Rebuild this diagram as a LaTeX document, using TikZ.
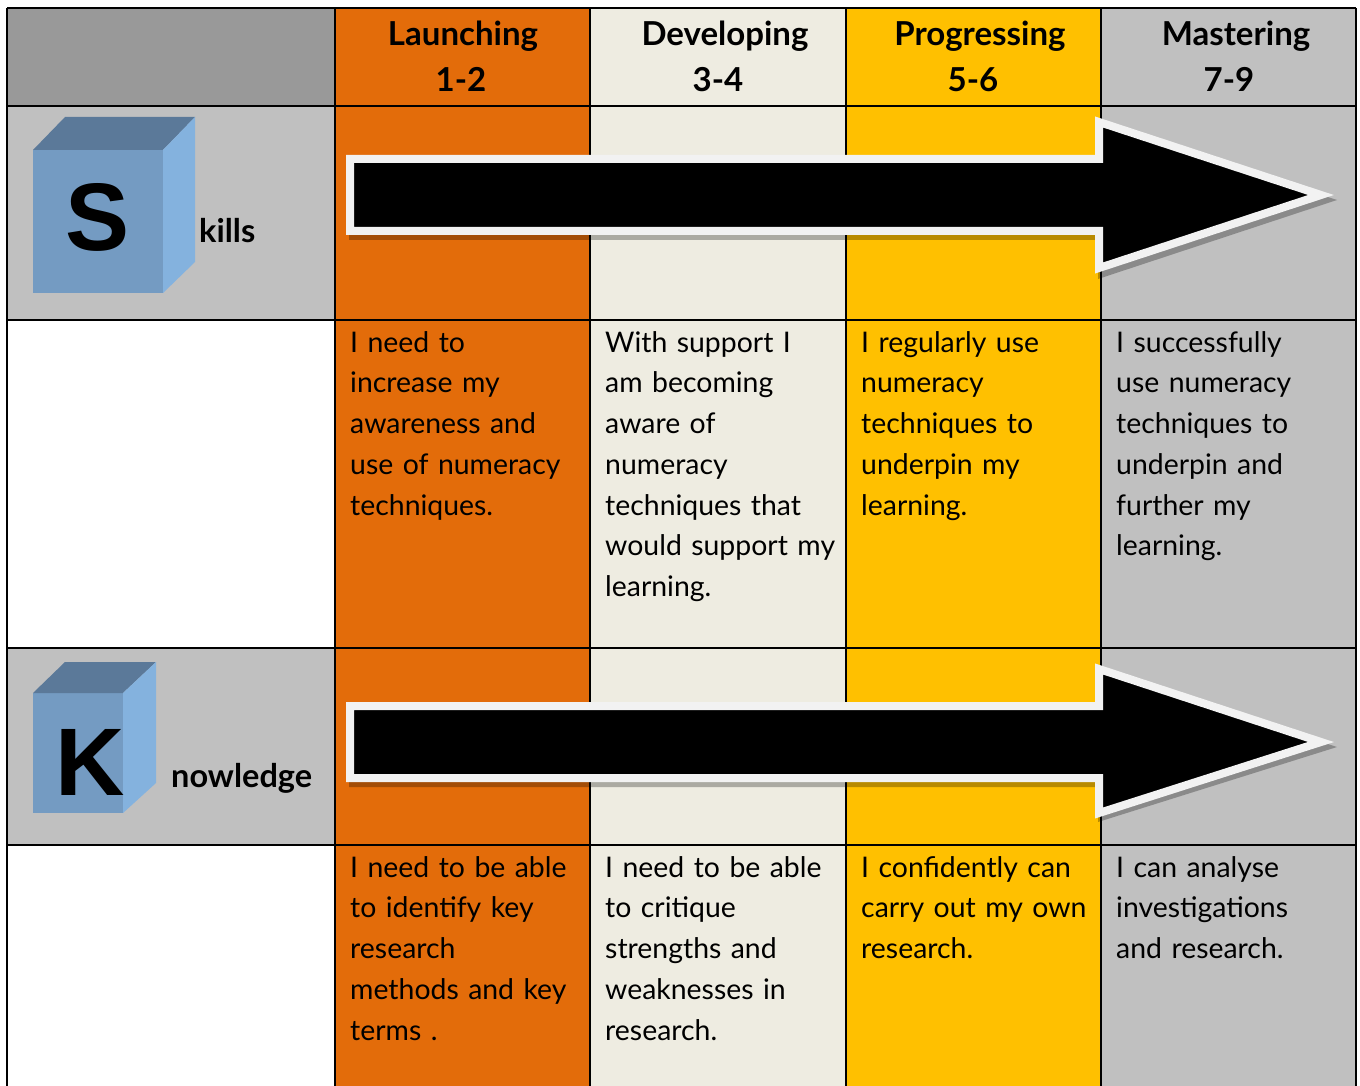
\documentclass[tikz,border=0pt]{standalone}
\usepackage{fontspec}
\setmainfont{Lato}
\newfontfamily\cubefont{Liberation Sans}
\definecolor{hdrgray}{HTML}{999999}
\definecolor{rowgray}{HTML}{C0C0C0}
\definecolor{colorange}{HTML}{E36C0A}
\definecolor{colbeige}{HTML}{EEECE1}
\definecolor{colyellow}{HTML}{FFC000}
\definecolor{colgray}{HTML}{C0C0C0}
\definecolor{arrowwhite}{HTML}{F2F2F2}
\definecolor{cubefront}{HTML}{749BC2}
\definecolor{cubetop}{HTML}{5B7999}
\definecolor{cubeside}{HTML}{84B2DE}
\tikzset{
  gridline/.style={line width=2.6pt, black},
  arrowshape/.style={fill=black, draw=arrowwhite, line width=8pt, line join=miter},
  shadowshape/.style={fill=black, fill opacity=0.28},
  bodytext/.style={anchor=base west, inner sep=0pt, text width=248pt, align=left, font=\fontsize{28.4}{40.75}\selectfont},
  hdrtext/.style={anchor=base, inner sep=0pt, font=\fontsize{33}{40}\selectfont\bfseries},
  labeltext/.style={anchor=base west, inner sep=0pt, font=\fontsize{32.5}{40}\selectfont\bfseries},
  cubeletter/.style={anchor=base, inner sep=0pt, font=\cubefont\bfseries\fontsize{96}{100}\selectfont},
}
\begin{document}
\begin{tikzpicture}[x=1pt,y=-1pt]
\useasboundingbox (0,0) rectangle (1360,1086);
\fill[white] (0,0) rectangle (1360,1086);
% left column fills
\fill[hdrgray] (7,8) rectangle (335,106);
\fill[rowgray] (7,106) rectangle (335,320);
\fill[white] (7,320) rectangle (335,648);
\fill[rowgray] (7,648) rectangle (335,845);
\fill[white] (7,845) rectangle (335,1086);
% level columns
\fill[colorange] (335,8) rectangle (590,1086);
\fill[colbeige] (590,8) rectangle (846,1086);
\fill[colyellow] (846,8) rectangle (1101,1086);
\fill[colgray] (1101,8) rectangle (1356,1086);
% grid
\foreach \gx in {7,335,590,846,1101,1356} {\draw[gridline] (\gx,8) -- (\gx,1086);}
\foreach \gy in {8,106,320,648,845} {\draw[gridline] (7,\gy) -- (1356,\gy);}
% arrow 1 (skills)
\fill[shadowshape] (349,160) -- (1098,160) -- (1098,121) -- (1337,200) -- (1098,279) -- (1098,240) -- (349,240) -- cycle;
\draw[arrowshape] (350,159) -- (1099,159) -- (1099,122) -- (1321,195) -- (1099,268) -- (1099,231) -- (350,231) -- cycle;
% arrow 2 (knowledge)
\fill[shadowshape] (349,707) -- (1098,707) -- (1098,668) -- (1337,747) -- (1098,822) -- (1098,787) -- (349,787) -- cycle;
\draw[arrowshape] (350,706) -- (1099,706) -- (1099,669) -- (1321,742) -- (1099,813) -- (1099,778) -- (350,778) -- cycle;
% cube S
\fill[cubefront] (33,150) rectangle (163,293);
\fill[cubetop] (33,150) -- (65,117) -- (195,117) -- (163,150) -- cycle;
\fill[cubeside] (163,150) -- (195,117) -- (195,262) -- (163,293) -- cycle;
\node[cubeletter] (sletter) at (97.5,251) {S};
\node[labeltext] (skills) at (199,243) {kills};
% cube K
\fill[cubefront] (33,693) rectangle (123,813);
\fill[cubetop] (33,693) -- (65,662) -- (156,662) -- (123,693) -- cycle;
\fill[cubeside] (123,693) -- (156,662) -- (156,783) -- (123,813) -- cycle;
\node[cubeletter] (kletter) at (90.5,795) {K};
\node[labeltext] (knowledge) at (171,787) {nowledge};
% headers
\node[hdrtext] (h1a) at (463,46) {Launching};
\node[hdrtext] (h1b) at (461,92) {1-2};
\node[hdrtext] (h2a) at (725,46) {Developing};
\node[hdrtext] (h2b) at (718,92) {3-4};
\node[hdrtext] (h3a) at (980,46) {Progressing};
\node[hdrtext] (h3b) at (973,92) {5-6};
\node[hdrtext] (h4a) at (1236,46) {Mastering};
\node[hdrtext] (h4b) at (1229,92) {7-9};
% skills descriptors
\node[bodytext] (s1) at (350,352) {I need to\\increase my\\awareness and\\use of numeracy\\techniques.};
\node[bodytext] (s2) at (605,352) {With support I\\am becoming\\aware of\\numeracy\\techniques that\\would support my\\learning.};
\node[bodytext] (s3) at (861,352) {I regularly use\\numeracy\\techniques to\\underpin my\\learning.};
\node[bodytext] (s4) at (1116,352) {I successfully\\use numeracy\\techniques to\\underpin and\\further my\\learning.};
% knowledge descriptors
\node[bodytext] (k1) at (350,877) {I need to be able\\to identify key\\research\\methods and key\\terms .};
\node[bodytext] (k2) at (605,877) {I need to be able\\to critique\\strengths and\\weaknesses in\\research.};
\node[bodytext] (k3) at (861,877) {I confidently can\\carry out my own\\research.};
\node[bodytext] (k4) at (1116,877) {I can analyse\\investigations\\and research.};
\end{tikzpicture}
\end{document}
